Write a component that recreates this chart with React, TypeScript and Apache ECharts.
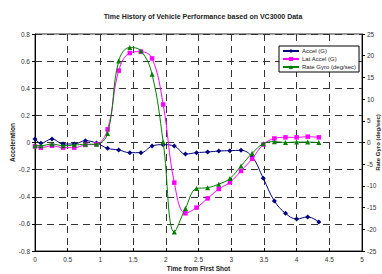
import React, { useEffect, useRef } from "react";
import * as echarts from "echarts";

const times = [0, 0.09, 0.26, 0.43, 0.6, 0.77, 0.94, 1.11, 1.28, 1.45, 1.62, 1.79, 1.96, 2.13, 2.3, 2.47, 2.64, 2.81, 2.98, 3.15, 3.32, 3.49, 3.66, 3.83, 4.0, 4.17, 4.34];
const accel = [0.026, -0.005, 0.026, -0.011, -0.011, 0.013, -0.004, -0.043, -0.055, -0.075, -0.075, -0.026, -0.016, -0.026, -0.085, -0.075, -0.07, -0.063, -0.06, -0.058, -0.105, -0.264, -0.431, -0.522, -0.564, -0.549, -0.586];
const latAccel = [-0.028, -0.038, -0.024, -0.038, -0.038, -0.018, -0.013, 0.097, 0.53, 0.66, 0.67, 0.62, 0.28, -0.296, -0.522, -0.48, -0.412, -0.343, -0.294, -0.21, -0.12, -0.015, 0.03, 0.038, 0.038, 0.043, 0.038];
const rateGyro = [-0.74, -0.74, -0.35, -0.74, -0.6, -0.4, -0.4, 2.1, 18.8, 21.9, 21.1, 15.7, 0.1, -20.6, -15.2, -10.6, -10.4, -9.6, -8.3, -5.4, -2.5, -0.3, 0.2, 0, 0.1, 0.1, 0];

const seriesNames = ["Accel (G)", "Lat Accel (G)", "Rate Gyro (deg/sec)"];
const title = "Time History of Vehicle Performance based on VC3000 Data";

const FONT = "Liberation Sans, Arial, sans-serif";

export default function App() {
  const ref = useRef<HTMLDivElement>(null);
  useEffect(() => {
    if (!ref.current) return;
    const chart = echarts.init(ref.current, undefined, { renderer: "svg" });
    const pair = (vals: number[]) => times.map((t, i) => [t, vals[i]]);
    const splitLine = { show: true, lineStyle: { color: "#333", type: [7, 5] as any, width: 1 } };
    const axisLabel = { fontSize: 6.5, color: "#333", fontFamily: FONT };
    chart.setOption({
      animation: false,
      backgroundColor: "#fff",
      title: {
        text: title,
        left: 198,
        textAlign: "center",
        top: 8,
        textStyle: { fontSize: 7, fontWeight: "bold", color: "#222", fontFamily: FONT },
      },
      legend: {
        orient: "vertical",
        left: 279,
        top: 46,
        padding: [2, 3, 2, 3],
        itemWidth: 16,
        itemHeight: 5,
        itemGap: 2,
        borderColor: "#000",
        borderWidth: 1,
        backgroundColor: "#fff",
        textStyle: { fontSize: 6, color: "#222", fontFamily: FONT, padding: [0, 0, 0, -2] },
        data: seriesNames,
      },
      grid: {
        left: 35,
        right: 20,
        top: 34,
        bottom: 23,
        containLabel: false,
        outerBoundsMode: "none",
        show: true,
        borderColor: "#333",
        borderWidth: 1,
      },
      xAxis: {
        type: "value",
        min: 0,
        max: 5,
        interval: 0.5,
        name: "Time from First Shot",
        nameLocation: "middle",
        nameGap: 14,
        nameMoveOverlap: false,
        nameTextStyle: { fontSize: 6.5, fontWeight: "bold", color: "#222", fontFamily: FONT },
        axisLine: { show: true, onZero: false, lineStyle: { color: "#000", width: 1 } },
        axisTick: { show: true, inside: true, length: 3, lineStyle: { color: "#000" } },
        axisLabel: { ...axisLabel, margin: 5 },
        splitLine,
      },
      yAxis: [
        {
          type: "value",
          min: -0.8,
          max: 0.8,
          interval: 0.2,
          name: "Acceleration",
          nameLocation: "middle",
          nameRotate: 90,
          nameGap: 19,
          nameMoveOverlap: false,
          nameTextStyle: { fontSize: 6.5, fontWeight: "bold", color: "#222", fontFamily: FONT },
          axisLine: { show: true, onZero: false, lineStyle: { color: "#000", width: 1 } },
          axisTick: { show: true, length: 3, lineStyle: { color: "#000" } },
          axisLabel: {
            ...axisLabel,
            margin: 5,
            formatter: (v: number) => String(Math.round(v * 10) / 10),
          },
          splitLine,
        },
        {
          type: "value",
          min: -25,
          max: 25,
          interval: 5,
          position: "right",
          name: "Rate Gyro (deg/sec)",
          nameLocation: "middle",
          nameRotate: 90,
          nameGap: 13,
          nameMoveOverlap: false,
          nameTextStyle: { fontSize: 6, fontWeight: "bold", color: "#222", fontFamily: FONT },
          axisLine: { show: true, onZero: false, lineStyle: { color: "#000", width: 1 } },
          axisTick: { show: true, length: 3, lineStyle: { color: "#000" } },
          axisLabel: { ...axisLabel, margin: 5 },
          splitLine: { show: false },
        },
      ],
      series: [
        {
          name: seriesNames[0],
          type: "line",
          yAxisIndex: 0,
          data: pair(accel),
          smooth: 0.4,
          symbol: "diamond",
          symbolSize: 5,
          lineStyle: { color: "#000080", width: 1 },
          itemStyle: { color: "#000080" },
          z: 3,
        },
        {
          name: seriesNames[1],
          type: "line",
          yAxisIndex: 0,
          data: pair(latAccel),
          smooth: 0.4,
          symbol: "rect",
          symbolSize: 4.5,
          lineStyle: { color: "#ff00ff", width: 1 },
          itemStyle: { color: "#ff00ff" },
          z: 4,
        },
        {
          name: seriesNames[2],
          type: "line",
          yAxisIndex: 1,
          data: pair(rateGyro),
          smooth: 0.4,
          symbol: "triangle",
          symbolSize: 5,
          lineStyle: { color: "#008000", width: 1 },
          itemStyle: { color: "#008000" },
          z: 5,
        },
      ],
    });
    return () => chart.dispose();
  }, []);
  return <div ref={ref} style={{ width: 382, height: 274, position: "absolute", left: 0, top: 0 }} />;
}
